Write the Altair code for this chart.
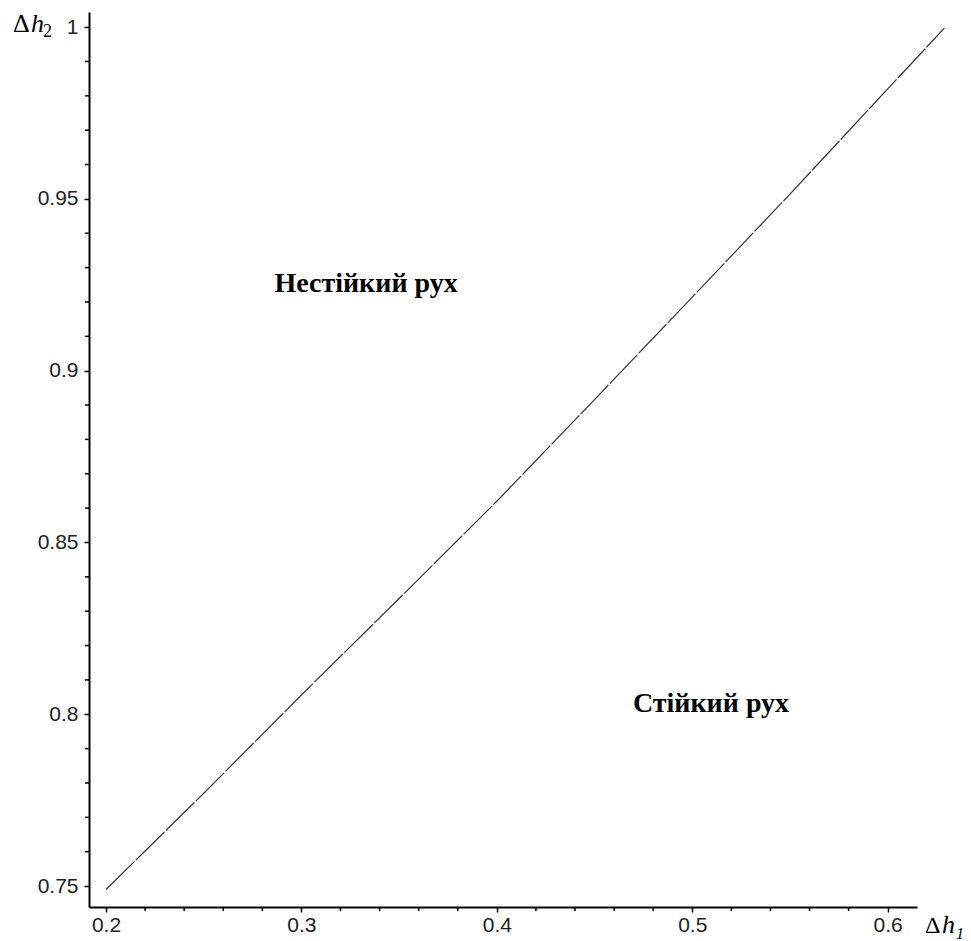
import altair as alt
import pandas as pd

# Boundary curve
dh1 = [0.20, 0.25, 0.30, 0.35, 0.40, 0.45, 0.50, 0.55, 0.60, 0.629]
dh2 = [0.749, 0.777, 0.8056, 0.8337, 0.862, 0.8916, 0.9214, 0.9514, 0.982, 0.9997]

# Region labels
region_text = ["Нестійкий рух", "Стійкий рух"]
region_x = [0.3331, 0.5096]
region_y = [0.9229, 0.8006]

x_major = [0.2, 0.3, 0.4, 0.5, 0.6]
y_major = [0.75, 0.8, 0.85, 0.9, 0.95, 1.0]
x_minor = [round(0.20 + 0.02 * i, 2) for i in range(21) if i % 5 != 0]
y_minor = [round(0.75 + 0.01 * i, 2) for i in range(26) if i % 5 != 0]

W, H = 828, 895
XDOM = [0.1913, 0.615]
YDOM = [0.7439, 1.0044]

curve = pd.DataFrame({"dh1": dh1, "dh2": dh2})
regions = pd.DataFrame({"t": region_text, "x": region_x, "y": region_y})

xscale = alt.Scale(domain=XDOM, nice=False, zero=False)
yscale = alt.Scale(domain=YDOM, nice=False, zero=False)

xaxis = alt.Axis(
    title=None, values=x_major, grid=False, tickSize=5, tickWidth=1.5,
    domainWidth=2, domainColor="black", tickColor="black", format="~g",
    labelFont="Liberation Sans", labelFontSize=21, labelColor="#222",
    labelPadding=2, labelOverlap=False, labelFlush=False,
)
yaxis = alt.Axis(
    title=None, values=y_major, grid=False, tickSize=5, tickWidth=1.5,
    domainWidth=2, domainColor="black", tickColor="black", format="~g",
    labelFont="Liberation Sans", labelFontSize=21, labelColor="#222",
    labelPadding=6, labelOverlap=False, labelFlush=False,
)

line = alt.Chart(curve).mark_line(
    color="#333", strokeWidth=1.2, strokeDash=[40, 2], clip=False
).encode(
    x=alt.X("dh1:Q", scale=xscale, axis=xaxis),
    y=alt.Y("dh2:Q", scale=yscale, axis=yaxis),
)

xminor = alt.Chart(pd.DataFrame({"v": x_minor})).mark_rule(
    color="black", strokeWidth=1.5
).encode(
    x=alt.X("v:Q", scale=xscale), y=alt.value(H), y2=alt.value(H + 4)
)
yminor = alt.Chart(pd.DataFrame({"v": y_minor})).mark_rule(
    color="black", strokeWidth=1.5
).encode(
    y=alt.Y("v:Q", scale=yscale), x=alt.value(0), x2=alt.value(-4)
)

labels = alt.Chart(regions).mark_text(
    font="Liberation Serif", fontSize=28, fontWeight="bold", color="black",
    align="center", baseline="alphabetic"
).encode(
    x=alt.X("x:Q", scale=xscale),
    y=alt.Y("y:Q", scale=yscale),
    text="t:N",
)

def txt(s, x, y, size, style="normal", align="left"):
    return alt.Chart(pd.DataFrame({"t": [s]})).mark_text(
        font="Liberation Serif", fontSize=size, fontStyle=style, color="black",
        align=align, baseline="alphabetic"
    ).encode(x=alt.value(x), y=alt.value(y), text="t:N")

titles = [
    txt("Δ", -76, 20, 26),
    txt("h", -58, 20, 26, "italic"),
    txt("2", -46, 25, 18),
    txt("Δ", 836, 921, 24),
    txt("h", 853, 921, 26, "italic"),
    txt("1", 867, 927, 16, "italic"),
]

chart = alt.layer(line, xminor, yminor, labels, *titles).properties(
    width=W, height=H,
    padding={"left": 89, "top": 12, "right": 54, "bottom": 34},
    autosize=alt.AutoSizeParams(type="none"),
    background="white",
).configure_view(stroke=None)

chart.save("out.html", embed_options={"renderer": "svg", "actions": False})
